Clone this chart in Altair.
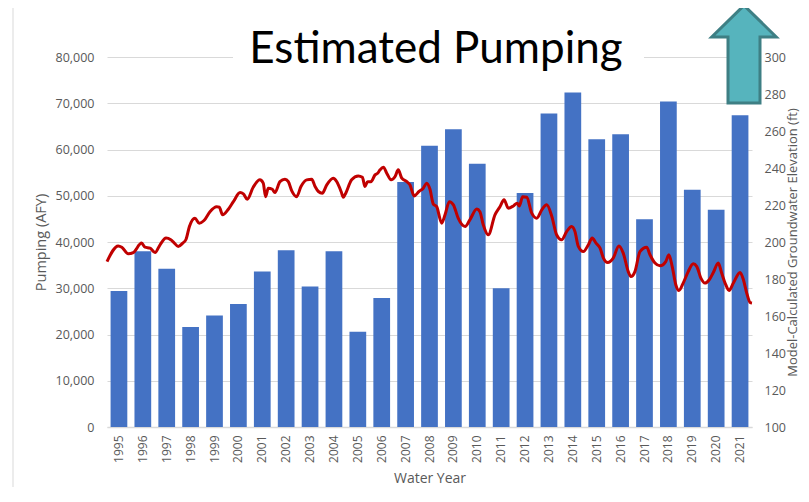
import altair as alt
import pandas as pd

# ---- data ----
years = [str(y) for y in range(1995, 2022)]
pumping = [29400, 38000, 34200, 21600, 24100, 26600, 33600, 38200, 30400, 38000,
           20600, 27900, 53000, 60800, 64400, 56900, 30000, 50600, 67800, 72300,
           62200, 63300, 44900, 70400, 51300, 47000, 67400]

gw_time = [1994.75, 1995.22, 1995.37, 1995.64, 1995.85, 1996.20, 1996.34, 1996.55, 1996.76, 1996.97,
           1997.22, 1997.42, 1997.55, 1997.73, 1997.92, 1998.06, 1998.20, 1998.43, 1998.61, 1998.81,
           1999.06, 1999.34, 1999.45, 1999.59, 1999.83, 2000.04, 2000.32, 2000.46, 2000.62, 2000.87,
           2001.15, 2001.29, 2001.39, 2001.50, 2001.67, 2001.78, 2001.99, 2002.20, 2002.34, 2002.48,
           2002.69, 2002.87, 2003.11, 2003.32, 2003.46, 2003.60, 2003.76, 2003.95, 2004.22, 2004.37,
           2004.55, 2004.64, 2004.71, 2004.99, 2005.27, 2005.44, 2005.55, 2005.66, 2005.80, 2005.97,
           2006.08, 2006.18, 2006.32, 2006.46, 2006.64, 2006.81, 2006.94, 2007.09, 2007.30, 2007.43,
           2007.61, 2007.81, 2007.99, 2008.13, 2008.27, 2008.41, 2008.55, 2008.76, 2008.90, 2009.08,
           2009.25, 2009.45, 2009.74, 2009.94, 2010.23, 2010.36, 2010.50, 2010.71, 2010.99, 2011.20,
           2011.37, 2011.55, 2011.76, 2011.92, 2012.01, 2012.15, 2012.32, 2012.53, 2012.74, 2012.95,
           2013.16, 2013.37, 2013.57, 2013.78, 2013.99, 2014.20, 2014.34, 2014.48, 2014.69, 2014.90,
           2015.06, 2015.22, 2015.39, 2015.53, 2015.71, 2015.94, 2016.18, 2016.36, 2016.57, 2016.68,
           2016.85, 2017.06, 2017.34, 2017.48, 2017.69, 2017.90, 2018.14, 2018.27, 2018.41, 2018.56,
           2018.69, 2018.87, 2019.08, 2019.29, 2019.44, 2019.61, 2019.78, 2019.96, 2020.13, 2020.34,
           2020.48, 2020.65, 2020.79, 2020.97, 2021.25, 2021.39, 2021.53, 2021.67, 2021.75]

gw_elev = [189.4, 197.9, 197.2, 193.6, 194.3, 199.4, 197.2, 196.7, 194.3, 198.5,
           202.1, 201.2, 199.7, 197.6, 199.4, 201.5, 208.4, 212.9, 210.2, 211.6,
           216.4, 219.1, 218.8, 214.7, 217.7, 221.8, 226.7, 226.0, 223.1, 229.6,
           233.6, 231.8, 224.5, 229.1, 228.5, 226.7, 232.6, 233.9, 232.6, 227.8,
           224.5, 230.0, 233.6, 233.9, 230.0, 227.3, 226.4, 230.9, 234.5, 232.6,
           227.3, 224.2, 225.5, 233.6, 235.7, 235.0, 230.0, 232.6, 232.6, 236.3,
           237.2, 239.0, 240.4, 237.2, 233.6, 235.4, 239.0, 234.5, 232.6, 230.9,
           224.9, 227.3, 229.1, 231.8, 228.5, 220.5, 219.1, 210.2, 214.7, 221.8,
           220.1, 212.9, 208.4, 212.0, 217.8, 216.4, 209.3, 203.9, 214.7, 219.1,
           222.8, 218.3, 219.5, 221.0, 219.5, 224.5, 224.2, 215.6, 212.9, 217.4,
           220.1, 213.8, 203.9, 201.2, 205.6, 208.4, 205.6, 197.6, 194.8, 198.5,
           202.1, 199.4, 196.7, 191.3, 188.9, 191.3, 197.9, 194.0, 184.0, 181.3,
           184.0, 194.8, 197.2, 193.1, 188.6, 187.1, 189.4, 193.1, 186.7, 176.9,
           173.8, 177.8, 184.0, 188.2, 186.7, 180.5, 177.8, 179.6, 183.5, 188.6,
           183.2, 176.9, 173.8, 177.8, 183.5, 179.6, 172.4, 167.3, 167.0]

left_ticks = list(range(0, 80001, 10000))
right_ticks = list(range(100, 301, 20))
title_text = ["Estimated Pumping"]

bars_df = pd.DataFrame({"year": years, "pumping": pumping})
line_df = pd.DataFrame({"t": gw_time, "elev": gw_elev})
title_df = pd.DataFrame({"text": title_text})

FONT = "Open Sans"
GRAY = "#595959"
GRID = "#D9D9D9"

bars = alt.Chart(bars_df).mark_bar(color="#4472C4").encode(
    x=alt.X("year:O", title="Water Year", sort=None,
            scale=alt.Scale(paddingInner=0.3, paddingOuter=0.15),
            axis=alt.Axis(labelAngle=270, ticks=False, domainColor=GRID, domainWidth=1.5,
                          labelPadding=8, titlePadding=9, labelFontSize=12, titleFontSize=14)),
    y=alt.Y("pumping:Q", title="Pumping (AFY)",
            scale=alt.Scale(domain=[0, 80000], nice=False),
            axis=alt.Axis(values=left_ticks, format=",.0f", domain=False, ticks=False,
                          grid=True, gridColor=GRID, labelPadding=13, titlePadding=7,
                          labelFontSize=12.5, titleFontSize=14.5)),
)

line = alt.Chart(line_df).mark_line(color="#C00000", strokeWidth=3, interpolate="monotone").encode(
    x=alt.X("t:Q", scale=alt.Scale(domain=[1994.75, 2021.75], nice=False, zero=False), axis=None),
    y=alt.Y("elev:Q", title="Model-Calculated Groundwater Elevation (ft)",
            scale=alt.Scale(domain=[100, 300], nice=False, zero=False),
            axis=alt.Axis(orient="right", values=right_ticks, grid=False, domain=False, ticks=False,
                          labelPadding=12, titleAngle=270, titleBaseline="top", titlePadding=1,
                          labelFontSize=12.5, titleFontSize=13)),
)

border = alt.Chart(title_df).mark_rule(color=GRID, strokeWidth=1).encode(
    x=alt.value(-94), y=alt.value(-49), y2=alt.value(440))

title_bg = alt.Chart(title_df).mark_rect(color="white").encode(
    x=alt.value(126), x2=alt.value(537), y=alt.value(-40), y2=alt.value(12))

title_txt = alt.Chart(title_df).mark_text(font="Lato", fontSize=44, color="black",
                                          baseline="alphabetic", align="center").encode(
    text="text:N", x=alt.value(329), y=alt.value(6))

arrow_path = "M0,-0.98 L0.645,-0.35 L0.32,-0.35 L0.32,0.97 L-0.32,0.97 L-0.32,-0.35 L-0.645,-0.35 Z"
arrow = alt.Chart(title_df).mark_point(shape=arrow_path, size=10000, filled=True,
                                       fill="#56B4BD", stroke="#3E7F84", strokeWidth=3,
                                       opacity=1).encode(
    x=alt.value(637), y=alt.value(-2.6))

chart = alt.layer(bars, line, border, title_bg, title_txt, arrow).resolve_scale(
    x="independent", y="independent"
).properties(
    width=645, height=370,
    autosize=alt.AutoSizeParams(type="none"),
    padding={"left": 99, "top": 49, "right": 49, "bottom": 60},
).configure_view(stroke=None).configure_axis(
    labelFont=FONT, titleFont=FONT, labelColor=GRAY, titleColor=GRAY,
    titleFontWeight="normal",
)

chart.save("out.html", embed_options={"renderer": "svg", "actions": False})
